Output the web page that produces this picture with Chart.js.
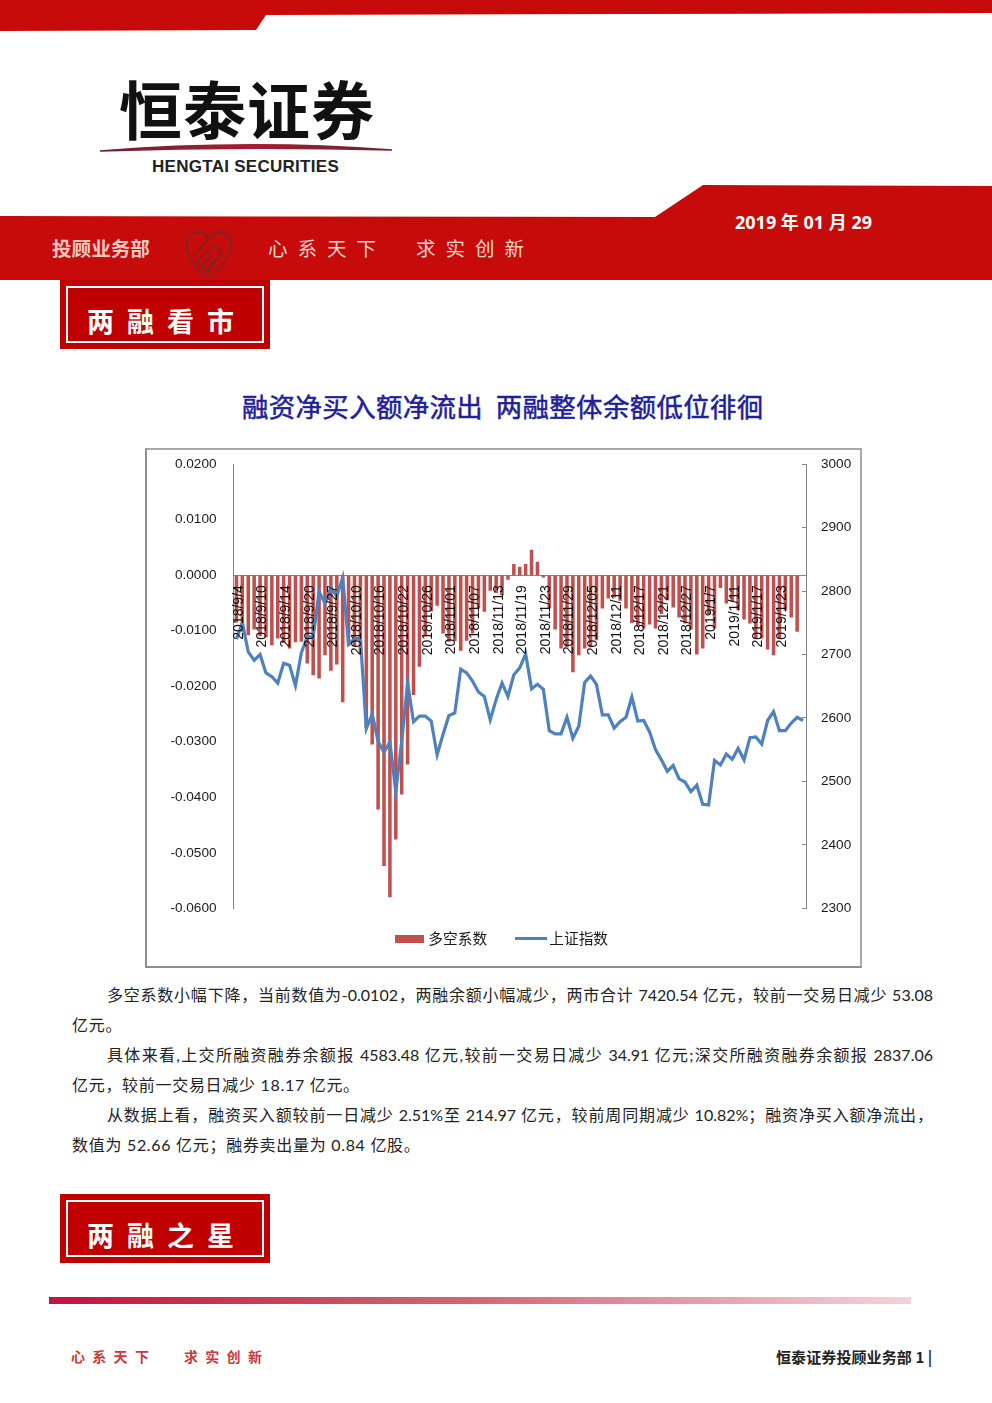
<!DOCTYPE html>
<html lang="zh"><head><meta charset="utf-8">
<script src="https://cdn.jsdelivr.net/npm/chart.js@4"></script>
<style>
html,body{margin:0;padding:0;background:#fff;}
#page{position:relative;width:992px;height:1403px;overflow:hidden;background:#fff;font-family:"Noto Sans CJK SC",sans-serif;}
.t{position:absolute;white-space:nowrap;line-height:1;}
.bd{position:absolute;font:16px/20px Lato,"Noto Sans CJK SC",sans-serif;color:#222;height:20px;}
.j{left:107px;width:826px;text-align:justify;text-align-last:justify;}
.l{left:72px;white-space:nowrap;letter-spacing:.7px;}
.box{position:absolute;left:60px;width:210px;height:69px;background:#c00000;}
.box i{position:absolute;left:6px;top:6px;right:6px;bottom:6px;border:2px solid #fff;}
.box b{position:absolute;left:27px;top:26px;font-size:27px;line-height:30px;color:#fff;letter-spacing:13px;white-space:nowrap;}
#frame{position:absolute;left:145px;top:448px;width:713px;height:516px;border:2px solid #8e8e8e;border-top-color:#a8a8a8;border-right-color:#a8a8a8;background:#fff;overflow:hidden;}
#frame canvas{display:block;position:absolute;left:0;top:-13px;}
</style></head><body>
<div id="page">
<svg width="992" height="1403" style="position:absolute;left:0;top:0">
<defs><linearGradient id="g"><stop offset="0" stop-color="#c4123e"/><stop offset=".5" stop-color="#cf6a78"/><stop offset="1" stop-color="#f4d3db"/></linearGradient>
<linearGradient id="sw" x1="0" x2="1"><stop offset="0" stop-color="#6b2230"/><stop offset=".5" stop-color="#a81c30"/><stop offset="1" stop-color="#6b2230"/></linearGradient></defs>
<polygon points="0,0 992,0 992,13 266,15 256,30 0,31" fill="#c70a0a"/>
<polygon points="0,216 655,217 703,185 992,186 992,280 0,280" fill="#c70a0a"/>
<path d="M100,151 Q245,139 392,150 Q245,146 100,151Z" fill="url(#sw)" stroke="url(#sw)" stroke-width="1.5"/>
<g fill="none" stroke="#6e2a2a" stroke-width="1.3">
<path d="M208,278 C195,268 186,256 186,245 C186,236 193,232 199,232 C204,232 207,235 209,239 C211,235 215,232 220,232 C226,232 231,237 231,245 C231,256 221,268 208,278Z"/>
<path d="M194,256 L208,239 M196,262 L214,245 L222,253 L208,272 Z M201,267 L212,255 M205,271 L216,259"/>
</g>
<rect x="49" y="1297" width="862" height="7" fill="url(#g)"/>
</svg>
<div class="t" style="left:119px;top:75px;font-size:63px;font-weight:700;color:#111;letter-spacing:1px;">恒泰证券</div>
<div class="t" style="left:152px;top:157px;font:bold 17px 'Liberation Sans',sans-serif;color:#222;letter-spacing:.28px;">HENGTAI SECURITIES</div>
<div class="t" style="left:52px;top:238px;font-size:19.6px;font-weight:700;color:#f4c9c0;">投顾业务部</div>
<div class="t" style="left:268px;top:238px;font-size:19.5px;color:#f4d5cc;letter-spacing:10px;">心系天下</div>
<div class="t" style="left:416px;top:238px;font-size:19.5px;color:#f4d5cc;letter-spacing:10px;">求实创新</div>
<div class="t" style="left:735px;top:208px;font:bold 18px 'Open Sans','Noto Sans CJK SC',sans-serif;color:#fff;">2019 年 01 月 29</div>
<div class="box" style="top:280px"><i></i><b>两融看市</b></div>
<div class="t" style="left:242px;top:393px;font-size:26.4px;color:#20209a;-webkit-text-stroke:.5px #20209a;white-space:pre;letter-spacing:.4px;">融资净买入额净流出  两融整体余额低位徘徊</div>
<div id="frame"><canvas id="c" width="713" height="529" style="width:713px;height:529px"></canvas></div>
<div class="bd j" style="top:985px">多空系数小幅下降，当前数值为-0.0102，两融余额小幅减少，两市合计 7420.54 亿元，较前一交易日减少 53.08</div>
<div class="bd l" style="top:1015px">亿元。</div>
<div class="bd j" style="top:1045px">具体来看,上交所融资融券余额报 4583.48 亿元,较前一交易日减少 34.91 亿元;深交所融资融券余额报 2837.06</div>
<div class="bd l" style="top:1075px">亿元，较前一交易日减少 18.17 亿元。</div>
<div class="bd j" style="top:1105px">从数据上看，融资买入额较前一日减少 2.51%至 214.97 亿元，较前周同期减少 10.82%；融资净买入额净流出，</div>
<div class="bd l" style="top:1135px">数值为 52.66 亿元；融券卖出量为 0.84 亿股。</div>
<div class="box" style="top:1194px"><i></i><b>两融之星</b></div>
<div class="t" style="left:71px;top:1349px;font-size:14px;font-weight:700;color:#c93a3a;letter-spacing:7.3px;">心系天下</div>
<div class="t" style="left:184px;top:1349px;font-size:14px;font-weight:700;color:#c93a3a;letter-spacing:7.3px;">求实创新</div>
<div class="t" style="left:776px;top:1349px;font-size:15px;font-weight:700;color:#222;letter-spacing:.1px;">恒泰证券投顾业务部 1 |</div>
</div>
<script>
const dates=["2018/9/4","2018/9/5","2018/9/6","2018/9/7","2018/9/10","2018/9/11","2018/9/12","2018/9/13","2018/9/14","2018/9/17","2018/9/18","2018/9/19","2018/9/20","2018/9/21","2018/9/25","2018/9/26","2018/9/27","2018/9/28","2018/10/8","2018/10/9","2018/10/10","2018/10/11","2018/10/12","2018/10/15","2018/10/16","2018/10/17","2018/10/18","2018/10/19","2018/10/22","2018/10/23","2018/10/24","2018/10/25","2018/10/26","2018/10/29","2018/10/30","2018/10/31","2018/11/01","2018/11/02","2018/11/05","2018/11/06","2018/11/07","2018/11/08","2018/11/09","2018/11/12","2018/11/13","2018/11/14","2018/11/15","2018/11/16","2018/11/19","2018/11/20","2018/11/21","2018/11/22","2018/11/23","2018/11/26","2018/11/27","2018/11/28","2018/11/29","2018/11/30","2018/12/03","2018/12/04","2018/12/05","2018/12/06","2018/12/07","2018/12/10","2018/12/11","2018/12/12","2018/12/13","2018/12/14","2018/12/17","2018/12/18","2018/12/19","2018/12/20","2018/12/21","2018/12/24","2018/12/25","2018/12/26","2018/12/27","2018/12/28","2019/1/2","2019/1/3","2019/1/7","2019/1/8","2019/1/9","2019/1/10","2019/1/11","2019/1/14","2019/1/15","2019/1/16","2019/1/17","2019/1/18","2019/1/21","2019/1/22","2019/1/23","2019/1/24","2019/1/25","2019/1/28","2019/1/29"];
const longShortRatio=[-0.0085,-0.0102,-0.0108,-0.0098,-0.0110,-0.0112,-0.0126,-0.0114,-0.0122,-0.0132,-0.0121,-0.0120,-0.0159,-0.0180,-0.0186,-0.0144,-0.0172,-0.0161,-0.0229,-0.0127,-0.0128,-0.0143,-0.0275,-0.0305,-0.0422,-0.0524,-0.0580,-0.0476,-0.0395,-0.0341,-0.0216,-0.0165,-0.0110,-0.0065,-0.0055,-0.0105,-0.0120,-0.0119,-0.0136,-0.0118,-0.0105,-0.0060,-0.0066,-0.0028,-0.0032,-0.0036,-0.0008,0.0020,0.0015,0.0020,0.0046,0.0024,-0.0004,-0.0060,-0.0098,-0.0132,-0.0130,-0.0175,-0.0144,-0.0132,-0.0130,-0.0117,-0.0060,-0.0042,-0.0040,-0.0046,-0.0060,-0.0086,-0.0092,-0.0096,-0.0089,-0.0096,-0.0070,-0.0045,-0.0058,-0.0076,-0.0087,-0.0098,-0.0143,-0.0132,-0.0070,-0.0096,-0.0023,-0.0051,-0.0048,-0.0063,-0.0080,-0.0087,-0.0114,-0.0114,-0.0134,-0.0144,-0.0114,-0.0063,-0.0076,-0.0102,null];
const shIndex=[2724,2750,2704,2691,2700,2671,2665,2655,2686,2683,2651,2703,2728,2728,2799,2781,2805,2792,2821,2716,2725,2725,2583,2606,2563,2546,2562,2484,2563,2655,2594,2603,2603,2595,2542,2574,2604,2608,2677,2671,2658,2641,2634,2597,2629,2655,2634,2668,2679,2701,2646,2653,2645,2580,2575,2575,2601,2568,2587,2656,2666,2653,2605,2605,2584,2594,2601,2633,2595,2596,2578,2550,2534,2516,2525,2504,2499,2484,2494,2464,2463,2533,2526,2543,2535,2552,2534,2569,2570,2559,2596,2610,2580,2580,2592,2601,2596];
const seriesNames=["多空系数","上证指数"];
const barColor="#C0504D", lineColor="#4F81BD";
const axisGrey="#868686", tickFont="'Liberation Sans',sans-serif", txt="#1a1a1a";
function swatch(w,h,c){const k=document.createElement("canvas");k.width=w;k.height=h;const g=k.getContext("2d");g.fillStyle=c;g.fillRect(0,0,w,h);return k;}
const barSwatch=swatch(29,8,barColor), lineSwatch=swatch(32,3,lineColor);
new Chart(document.getElementById("c"),{
 data:{labels:dates,datasets:[
  {type:"line",label:seriesNames[1],data:shIndex,yAxisID:"y1",xAxisID:"x",borderColor:lineColor,borderWidth:3.2,pointRadius:0,tension:0,order:1,backgroundColor:lineColor},
  {type:"bar",label:seriesNames[0],data:longShortRatio,yAxisID:"y",xAxisID:"x",backgroundColor:barColor,categoryPercentage:1,barPercentage:.6,order:2}
 ]},
 options:{responsive:false,animation:false,devicePixelRatio:1,
  layout:{padding:{top:0,bottom:10,left:0,right:0}},
  plugins:{tooltip:{enabled:false},
   legend:{position:"bottom",align:"center",
    labels:{usePointStyle:true,pointStyleWidth:22,padding:23,color:txt,font:{size:14.7,family:"'Noto Sans CJK SC',sans-serif"},
     generateLabels(){return [
      {text:seriesNames[0]+"\u00a0\u00a0\u00a0",pointStyle:barSwatch,lineWidth:0,fillStyle:barColor,fontColor:txt,datasetIndex:1},
      {text:seriesNames[1],pointStyle:lineSwatch,lineWidth:0,fillStyle:lineColor,fontColor:txt,datasetIndex:0}];}
    }}},
  scales:{
   x:{type:"category",position:{y:0},offset:true,
    grid:{display:false,drawTicks:false},border:{display:true,color:axisGrey,width:1},
    ticks:{autoSkip:false,minRotation:90,maxRotation:90,padding:10,labelOffset:2.5,z:1,color:"#111",font:{size:14,family:tickFont},
     callback(v,i){return i%4===0&&i<96?dates[i]:"";}}},
   y:{position:"left",min:-0.06,max:0.02,afterFit(s){s.width=86.5;},
    grid:{display:false,drawTicks:false},border:{display:true,color:axisGrey,width:1},
    ticks:{stepSize:0.01,padding:17,color:txt,font:{size:13.6,family:tickFont},callback(v){return v.toFixed(4);}}},
   y1:{position:"right",min:2300,max:3000,afterFit(s){s.width=54;},
    grid:{drawOnChartArea:false,drawTicks:true,tickLength:-4,color:axisGrey},border:{display:true,color:axisGrey,width:1},
    ticks:{stepSize:100,padding:19,color:txt,font:{size:13.6,family:tickFont},callback(v){return String(v);}}}
  }}
});
</script>
</body></html>
